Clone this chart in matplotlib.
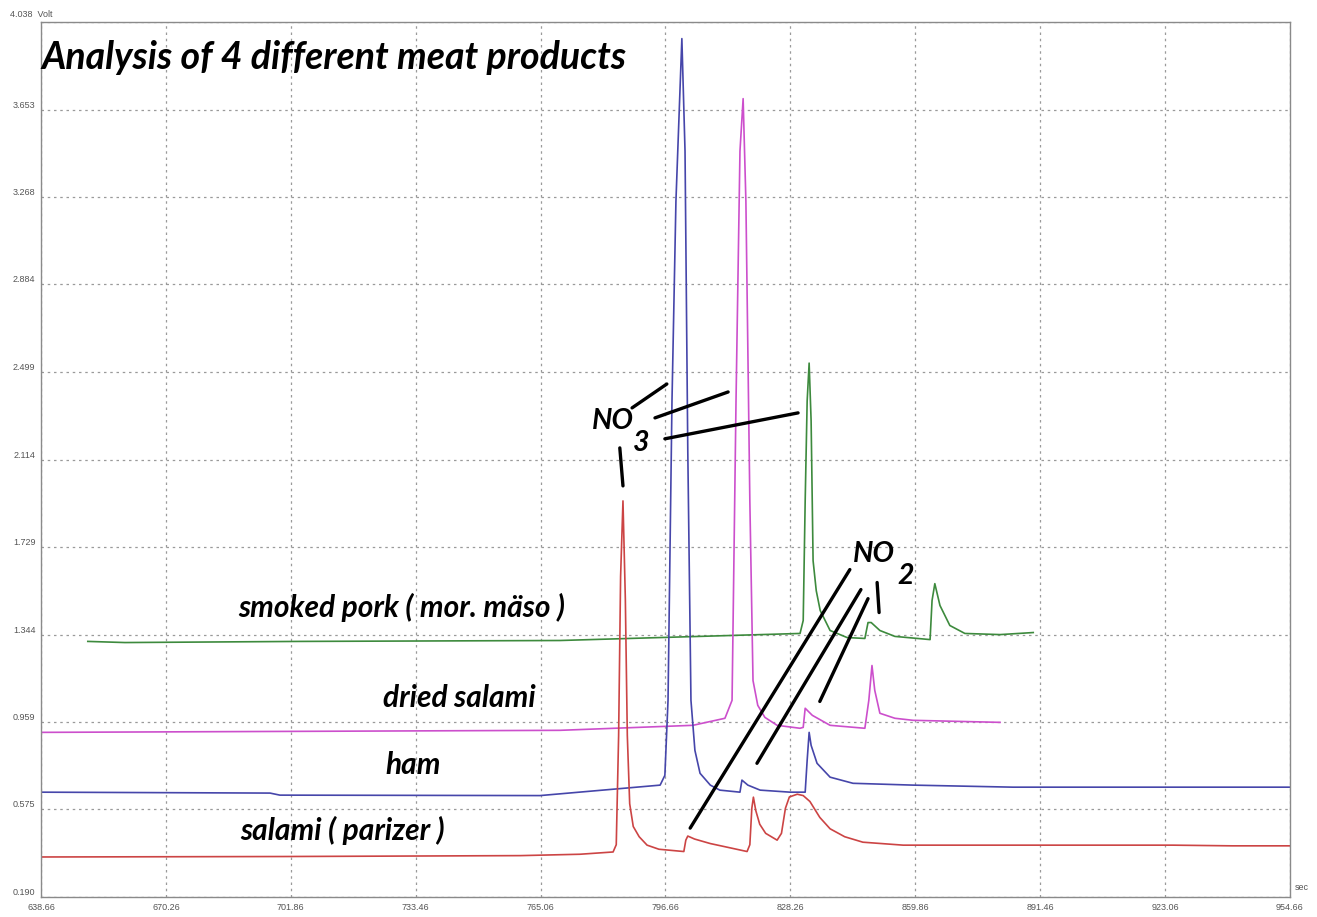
import numpy as np
import matplotlib
matplotlib.use('Agg')
import matplotlib.pyplot as plt

# chromatogram traces (sec, Volt)
salami_x = [638.66, 700, 760, 775, 783.4, 784.2, 784.8, 785.3, 785.9, 786.5, 787.0, 787.6, 788.5, 790,
            792, 795, 800, 801.3, 801.8, 802.3, 804, 808, 812, 817.3, 818.0, 818.5, 818.9, 819.5, 820.5,
            822, 824.9, 826, 827, 828, 830, 831.5, 833.2, 835.7, 838.3, 842, 846.6, 856.8, 870, 906,
            925, 940, 954.66]
salami_y = [0.366, 0.368, 0.372, 0.378, 0.388, 0.42, 0.9, 1.6, 1.932, 1.5, 0.9, 0.6, 0.50, 0.455,
            0.418, 0.400, 0.392, 0.390, 0.440, 0.458, 0.445, 0.425, 0.410, 0.390, 0.42, 0.58, 0.629, 0.57,
            0.51, 0.47, 0.440, 0.47, 0.58, 0.630, 0.642, 0.636, 0.610, 0.540, 0.490, 0.455, 0.431, 0.418,
            0.418, 0.418, 0.418, 0.415, 0.415]

ham_x = [638.66, 696.6, 699.1, 764.9, 795.3, 796.5, 797.3, 798.3, 799.3, 800.8, 801.6, 802.3, 803.1,
         804.1, 805.4, 808.0, 810.4, 815.5, 816.0, 817.5, 820.6, 828.2, 832.0, 832.5, 833.0, 833.5,
         835.0, 838.3, 844.1, 859.3, 884.6, 954.66]
ham_y = [0.651, 0.647, 0.638, 0.636, 0.682, 0.725, 1.055, 2.37, 3.25, 3.965, 3.47, 2.15, 1.055,
         0.835, 0.734, 0.682, 0.660, 0.651, 0.704, 0.682, 0.660, 0.651, 0.651, 0.791, 0.914, 0.857,
         0.778, 0.717, 0.690, 0.682, 0.673, 0.673]

dried_x = [638.66, 769.96, 803.6, 811.7, 813.5, 814.5, 815.5, 816.3, 817.0, 818.0, 818.8, 820.0,
           821.8, 824.9, 830.7, 831.5, 832.0, 833.8, 838.3, 847.1, 848.1, 848.9, 849.6, 850.9, 854.7,
           859.3, 881.3]
dried_y = [0.914, 0.923, 0.945, 0.976, 1.055, 2.37, 3.47, 3.701, 3.25, 1.93, 1.142, 1.033,
           0.980, 0.945, 0.932, 0.936, 1.020, 0.989, 0.945, 0.932, 1.055, 1.208, 1.099, 0.998, 0.976,
           0.967, 0.958]

smoked_x = [650.5, 659.9, 704.2, 769.96, 795.3, 830.7, 831.5, 832.0, 832.5, 833.0, 833.5, 834.0, 834.8,
            835.8, 838.3, 842.6, 847.1, 847.9, 848.7, 850.9, 854.7, 863.6, 864.1, 864.8, 866.1, 868.6,
            872.4, 881.3, 889.7]
smoked_y = [1.314, 1.309, 1.314, 1.318, 1.331, 1.349, 1.406, 1.932, 2.371, 2.538, 2.284, 1.669, 1.537,
            1.450, 1.362, 1.331, 1.327, 1.397, 1.397, 1.362, 1.336, 1.322, 1.494, 1.568, 1.472, 1.384,
            1.349, 1.344, 1.353]

x_ticks = [638.66, 670.26, 701.86, 733.46, 765.06, 796.66, 828.26, 859.86, 891.46, 923.06, 954.66]
y_ticks = [0.190, 0.575, 0.959, 1.344, 1.729, 2.114, 2.499, 2.884, 3.268, 3.653, 4.038]
x_labels = ['638.66', '670.26', '701.86', '733.46', '765.06', '796.66', '828.26', '859.86',
            '891.46', '923.06', '954.66']
y_labels = ['0.190', '0.575', '0.959', '1.344', '1.729', '2.114', '2.499', '2.884', '3.268', '3.653', '4.038']

fig = plt.figure(figsize=(13.17, 9.17), dpi=100)
ax = fig.add_axes([41 / 1317, 20 / 917, 1249 / 1317, 875 / 917])
ax.set_xlim(x_ticks[0], x_ticks[-1])
ax.set_ylim(y_ticks[0], y_ticks[-1])

ax.plot(smoked_x, smoked_y, color='#3d8a3d', lw=1.2)
ax.plot(dried_x, dried_y, color='#cc4fcc', lw=1.2)
ax.plot(ham_x, ham_y, color='#4646aa', lw=1.2)
ax.plot(salami_x, salami_y, color='#cc4444', lw=1.2)

# grid and frame
ax.set_xticks(x_ticks)
ax.set_yticks(y_ticks)
ax.grid(True, color='#9a9a9a', linestyle=(0, (2, 3)), lw=0.9)
for s in ax.spines.values():
    s.set_color('#8a8a8a')
    s.set_linewidth(1.0)
ax.tick_params(length=0, colors='#555555', labelsize=6.5, pad=4)
ax.set_xticklabels(x_labels, fontfamily='Liberation Sans')
# top value gets its own label together with the unit
ax.set_yticklabels(['' if l == '4.038' else l for l in y_labels], fontfamily='Liberation Sans',
                   va='bottom')
ax.text(-0.025, 1.003, y_labels[-1] + '  Volt', transform=ax.transAxes, ha='left', va='bottom',
        fontsize=6.5, color='#555555', family='Liberation Sans')
ax.text(1.004, 0.006, 'sec', transform=ax.transAxes, ha='left', va='bottom',
        fontsize=6.5, color='#555555', family='Liberation Sans')

bi = dict(family='Lato', weight='bold', style='italic', color='black')
ax.text(638.9, 3.881, 'Analysis of 4 different meat products', fontsize=27, va='center', **bi)
ax.text(688.5, 1.463, 'smoked pork ( mor. mäso )', fontsize=21.5, va='center', **bi)
ax.text(725.2, 1.063, 'dried salami', fontsize=21.5, va='center', **bi)
ax.text(725.9, 0.769, 'ham', fontsize=21.5, va='center', **bi)
ax.text(689.0, 0.484, 'salami ( parizer )', fontsize=21.5, va='center', **bi)

ax.text(778.1, 2.284, 'NO', fontsize=20.5, va='center', **bi)
ax.text(788.4, 2.187, '3', fontsize=20.5, va='center', **bi)
ax.text(844.1, 1.700, 'NO', fontsize=20.5, va='center', **bi)
ax.text(855.4, 1.603, '2', fontsize=20.5, va='center', **bi)

no3_lines = [((788.2, 2.341), (797.0, 2.446)), ((794.0, 2.297), (812.5, 2.411)),
             ((796.5, 2.205), (830.2, 2.319)), ((785.1, 2.165), (785.9, 1.998))]
no2_lines = [((843.3, 1.630), (802.9, 0.493)), ((846.1, 1.542), (819.8, 0.778)),
             ((847.9, 1.502), (835.7, 1.050)), ((850.2, 1.573), (850.7, 1.441))]
for (a, b) in no3_lines + no2_lines:
    ax.plot([a[0], b[0]], [a[1], b[1]], color='black', lw=2.4, solid_capstyle='round')

fig.savefig('out.png', dpi=100)
